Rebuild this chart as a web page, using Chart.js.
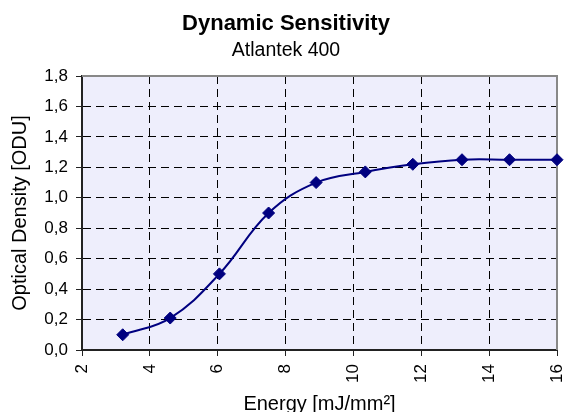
<!DOCTYPE html>
<html>
<head>
<meta charset="utf-8">
<script src="https://cdn.jsdelivr.net/npm/chart.js@4"></script>
<style>
  html, body { margin: 0; padding: 0; background: #fff; }
  #wrap { width: 565px; height: 412px; }
</style>
</head>
<body>
<div id="wrap"><canvas id="chart"></canvas></div>
<script>
const energy = [3.2, 4.6, 6.05, 7.5, 8.9, 10.35, 11.75, 13.2, 14.6, 16.0];
const density = [0.10, 0.21, 0.50, 0.90, 1.10, 1.17, 1.22, 1.25, 1.25, 1.25];

const xTicks = [2, 4, 6, 8, 10, 12, 14, 16];
const yTicks = [0, 0.2, 0.4, 0.6, 0.8, 1.0, 1.2, 1.4, 1.6, 1.8];

Chart.defaults.font.family = '"Liberation Sans", Arial, sans-serif';
Chart.defaults.color = '#000';

// plot area fill + grey top/right frame
const plotFrame = {
    id: 'plotFrame',
    beforeDraw(chart) {
        const {ctx, chartArea: a} = chart;
        ctx.save();
        ctx.fillStyle = '#EEEEFC';
        ctx.fillRect(a.left, a.top, a.right - a.left, a.bottom - a.top);
        ctx.restore();
    },
    beforeDatasetsDraw(chart) {
        const {ctx, chartArea: a} = chart;
        ctx.save();
        ctx.strokeStyle = '#888';
        ctx.lineWidth = 2;
        ctx.beginPath();
        ctx.moveTo(a.left, a.top);
        ctx.lineTo(a.right, a.top);
        ctx.lineTo(a.right, a.bottom);
        ctx.stroke();
        ctx.restore();
    }
};

function edgeColor(ctx, count) {
    return (ctx.index === 0 || ctx.index === count - 1) ? 'rgba(0,0,0,0)' : '#000';
}

const points = energy.map((e, i) => ({x: e, y: density[i]}));

new Chart(document.getElementById('chart'), {
    type: 'line',
    data: {
        datasets: [{
            data: points,
            borderColor: '#000080',
            borderWidth: 2,
            tension: 0.4,
            pointStyle: 'rectRot',
            pointRadius: 6,
            pointBackgroundColor: '#000080',
            pointBorderColor: '#000080',
            pointBorderWidth: 1,
            clip: false
        }]
    },
    options: {
        responsive: true,
        maintainAspectRatio: false,
        animation: false,
        layout: {
            padding: {left: 15, right: 8, top: 0, bottom: 0}
        },
        plugins: {
            legend: {display: false},
            tooltip: {enabled: false},
            title: {
                display: true,
                text: 'Dynamic Sensitivity',
                font: {size: 22, weight: 'bold'},
                padding: {top: 11, bottom: 0}
            },
            subtitle: {
                display: true,
                text: 'Atlantek 400',
                font: {size: 19.5},
                color: '#000',
                padding: {top: 1.7, bottom: 13.5}
            }
        },
        scales: {
            x: {
                type: 'linear',
                min: 2,
                max: 16,
                afterBuildTicks(scale) {
                    scale.ticks = xTicks.map(v => ({value: v}));
                },
                afterFit(scale) {
                    scale.height = 62;
                    scale.paddingLeft = 0;
                    scale.paddingRight = 0;
                },
                ticks: {
                    minRotation: 90,
                    maxRotation: 90,
                    padding: 8,
                    font: {size: 17}
                },
                grid: {
                    color: ctx => edgeColor(ctx, xTicks.length),
                    lineWidth: 1,
                    tickLength: 6,
                    tickColor: '#222'
                },
                border: {display: true, color: '#222', width: 2, dash: [8, 5]},
                title: {
                    display: true,
                    text: 'Energy [mJ/mm²]',
                    font: {size: 20},
                    padding: {top: 0, bottom: -4}
                }
            },
            y: {
                type: 'linear',
                min: 0,
                max: 1.8,
                afterBuildTicks(scale) {
                    scale.ticks = yTicks.map(v => ({value: v}));
                },
                afterFit(scale) {
                    scale.width = 67;
                    scale.paddingTop = 0;
                    scale.paddingBottom = 0;
                },
                ticks: {
                    padding: 8,
                    font: {size: 17},
                    callback: v => v.toFixed(1).replace('.', ',')
                },
                grid: {
                    color: ctx => edgeColor(ctx, yTicks.length),
                    lineWidth: 1,
                    tickLength: 6,
                    tickColor: '#222'
                },
                border: {display: true, color: '#222', width: 2, dash: [8, 5]},
                title: {
                    display: true,
                    text: 'Optical Density [ODU]',
                    font: {size: 20},
                    padding: {top: -6.4, bottom: 0}
                }
            }
        }
    },
    plugins: [plotFrame]
});
</script>
</body>
</html>
